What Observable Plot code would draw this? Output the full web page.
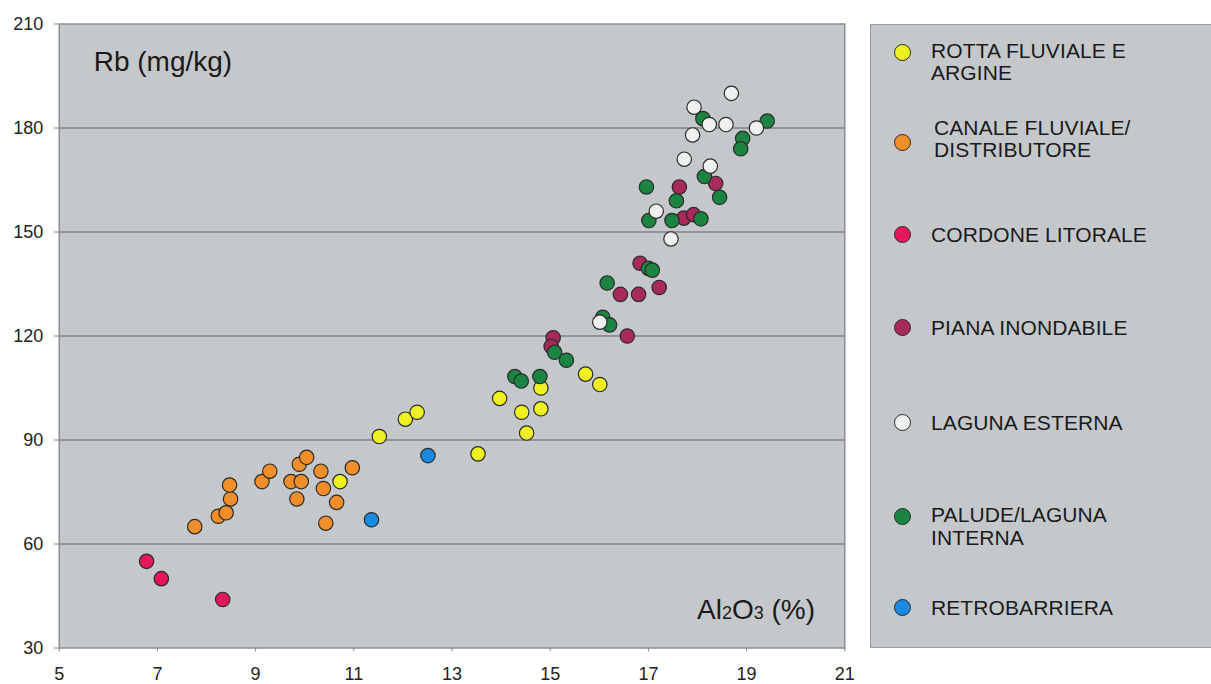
<!DOCTYPE html>
<html><head><meta charset="utf-8">
<script src="https://cdn.jsdelivr.net/npm/d3@7"></script>
<script src="https://cdn.jsdelivr.net/npm/@observablehq/plot@0.6"></script>
<style>
body{margin:0;background:#fff;font-family:"Liberation Sans",Arial,sans-serif;}
#wrap{position:relative;width:1211px;height:684px;overflow:hidden;}
#legend{position:absolute;left:870px;top:24px;width:360px;height:624px;background:#c5c8cb;border:1.5px solid #999b9d;box-sizing:border-box;}
.mk{position:absolute;width:17px;height:17px;border-radius:50%;border:1.3px solid #2a2a2a;box-sizing:border-box;}
.lt{position:absolute;font-size:21px;line-height:21px;letter-spacing:0.1px;color:#1a1a1a;white-space:nowrap;}
#xlab{position:absolute;left:697px;top:596px;font-size:28px;line-height:28px;color:#1a1a1a;white-space:nowrap;}
#xlab span{font-size:18px;}
</style>
</head><body>
<div id="wrap"></div>
<script>
// ---- data ----
const categories = ["ROTTA FLUVIALE E ARGINE","CANALE FLUVIALE/ DISTRIBUTORE","CORDONE LITORALE","PIANA INONDABILE","LAGUNA ESTERNA","PALUDE/LAGUNA INTERNA","RETROBARRIERA"];
const legendLines = [["ROTTA FLUVIALE E","ARGINE"],["CANALE FLUVIALE/","DISTRIBUTORE"],["CORDONE LITORALE"],["PIANA INONDABILE"],["LAGUNA ESTERNA"],["PALUDE/LAGUNA","INTERNA"],["RETROBARRIERA"]];
const colors = ["#eef022","#f08e2a","#e3185c","#a82a5a","#eef1ee","#1c8442","#1a8ae0"];
const xTicks = [5,7,9,11,13,15,17,19,21];
const yTicks = [30,60,90,120,150,180,210];

const rotta = [[10.72,78],[11.52,91],[12.05,96],[12.29,98],[13.53,86],[13.97,102],[14.42,98],[14.52,92],[14.81,99],[14.81,105],[15.72,109],[16.01,106]];
const canale = [[7.76,65],[8.24,68],[8.40,69],[8.49,73],[8.47,77],[9.13,78],[9.29,81],[9.72,78],[9.93,78],[9.84,73],[9.89,83],[10.04,85],[10.33,81],[10.38,76],[10.43,66],[10.65,72],[10.97,82]];
const cordone = [[6.78,55],[7.08,50],[8.33,44]];
const piana = [[15.06,119.5],[15.02,117],[16.43,132],[16.80,132],[17.22,134],[16.83,141],[16.57,120],[17.63,163],[18.37,164],[17.72,154],[17.92,155]];
const palude = [[14.28,108.3],[14.41,107],[14.79,108.3],[15.09,115.3],[15.33,113],[16.07,125.4],[16.21,123.2],[16.16,135.3],[17.0,139.5],[17.08,139],[16.96,163],[17.01,153.3],[17.48,153.3],[17.57,159],[18.07,153.8],[18.14,166],[18.45,160],[18.11,182.7],[18.92,177],[18.88,174],[19.42,182]];
const laguna = [[16.01,124],[17.46,148],[17.16,156],[17.73,171],[18.26,169],[17.90,178],[17.93,186],[18.69,190],[18.24,181],[18.58,181],[19.20,180]];
const retro = [[11.36,67],[12.51,85.5]];

// drawing order
const series = [[0,rotta],[1,canale],[2,cordone],[3,piana],[5,palude],[4,laguna],[6,retro]];
const table = series.flatMap(([ci, pts]) => pts.map(([x,y]) => ({x, y, cat: categories[ci]})));

const plot = Plot.plot({
  width: 1211, height: 684,
  marginLeft: 58.7, marginRight: 366.7, marginTop: 23.5, marginBottom: 36.5,
  style: {fontFamily: "'Liberation Sans', Arial, sans-serif", fontSize: "18px", color: "#222", background: "transparent", overflow: "visible"},
  x: {domain: [5,21], label: null},
  y: {domain: [30,210], label: null},
  color: {domain: categories, range: colors},
  marks: [
    Plot.frame({fill: "#c5c8cb", stroke: null}),
    Plot.gridY(yTicks.slice(1,-1), {stroke: "#7e8083", strokeOpacity: 1, strokeWidth: 1.3}),
    Plot.frame({stroke: "#8c8e90", strokeWidth: 1.5}),
    Plot.axisX(xTicks, {tickSize: 4, tickPadding: 15, stroke: "#888", fill: "#222", fontSize: 18}),
    Plot.axisY(yTicks, {tickSize: 5, tickPadding: 11, stroke: "#888", fill: "#222", fontSize: 18}),
    Plot.dot(table, {x: "x", y: "y", r: 7.2, fill: "cat", stroke: "#2a2a2a", strokeWidth: 1.2}),
    Plot.text(["Rb (mg/kg)"], {frameAnchor: "top-left", dx: 34.5, dy: 38.5, textAnchor: "start", lineAnchor: "middle", fontSize: 28, fill: "#1a1a1a"})
  ]
});
const wrap = document.getElementById("wrap");
wrap.appendChild(plot);

// x axis label
const xl = document.createElement("div");
xl.id = "xlab";
xl.innerHTML = "Al<span>2</span>O<span>3</span> (%)";
wrap.appendChild(xl);

// legend
const leg = document.createElement("div");
leg.id = "legend";
wrap.appendChild(leg);
const markerY = [51.7, 141.7, 233, 326, 421.7, 515, 606.7];
const lineY = [[49,70.5],[126,147.5],[232.5],[326],[420.5],[513,535.5],[605.5]];
const textX = [930,933,930,930,930,930,930];
categories.forEach((c, i) => {
  const m = document.createElement("div");
  m.className = "mk";
  m.style.background = colors[i];
  m.style.left = (901.7 - 8.5 - 870) + "px";
  m.style.top = (markerY[i] - 8.5 - 24) + "px";
  leg.appendChild(m);
  legendLines[i].forEach((t, j) => {
    const d = document.createElement("div");
    d.className = "lt";
    d.textContent = t;
    d.style.left = (textX[i] - 870) + "px";
    d.style.top = (lineY[i][j] - 9.8 - 24) + "px";
    leg.appendChild(d);
  });
});
</script>
</body></html>
